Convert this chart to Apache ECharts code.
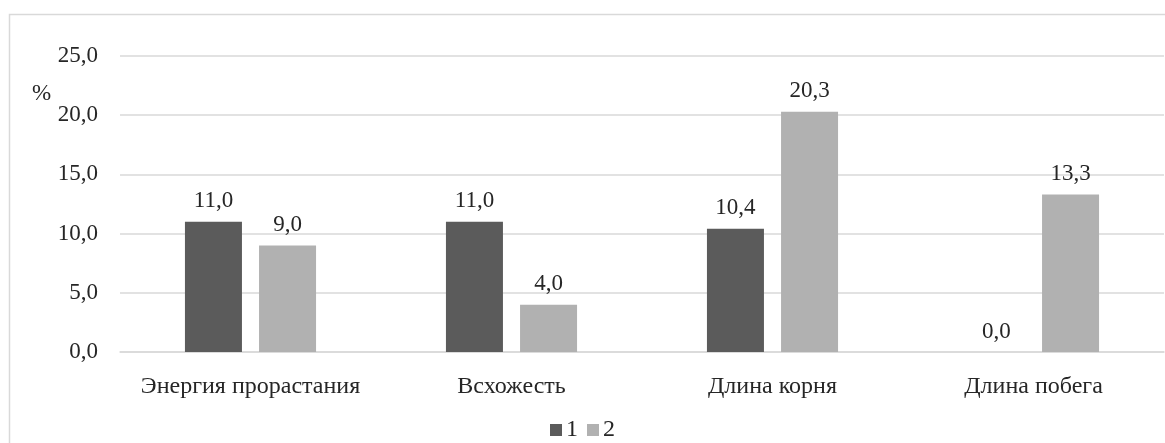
<!DOCTYPE html>
<html>
<head>
<meta charset="utf-8">
<script src="https://cdn.jsdelivr.net/npm/echarts@6/dist/echarts.min.js"></script>
<style>
  html, body { margin: 0; padding: 0; background: #fff; }
  #chart { width: 1165px; height: 443px; }
</style>
</head>
<body>
<div id="chart"></div>
<script>
// Categories and measured values (%)
const categories = ['Энергия прорастания', 'Всхожесть', 'Длина корня', 'Длина побега'];
const series1 = [11.0, 11.0, 10.4, 0.0];
const series2 = [9.0, 4.0, 20.3, 13.3];
const seriesNames = ['1', '2'];

const fmt = v => Number(v).toFixed(1).replace('.', ',');
const FONT = '"Liberation Serif", "Times New Roman", serif';
const TEXT = '#262626';

const chart = echarts.init(document.getElementById('chart'), null, { renderer: 'canvas' });

const valueLabel = {
  show: true,
  position: 'top',
  distance: 9,
  formatter: p => fmt(p.value),
  fontFamily: FONT,
  fontSize: 23,
  color: TEXT
};

chart.setOption({
  backgroundColor: '#ffffff',
  animation: false,
  textStyle: { fontFamily: FONT },
  graphic: [
    {
      type: 'rect',
      shape: { x: 9.5, y: 14.5, width: 1200, height: 500 },
      style: { fill: 'none', stroke: '#d9d9d9', lineWidth: 1.5 },
      silent: true
    },
    {
      type: 'text',
      left: 32,
      top: 82,
      style: { text: '%', font: '23px ' + FONT, fill: TEXT }
    }
  ],
  grid: { left: 120, right: 1, top: 56, bottom: 91 },
  legend: {
    top: 418,
    left: 'center',
    padding: 0,
    itemWidth: 12,
    itemHeight: 12,
    itemGap: 9,
    icon: 'rect',
    textStyle: { fontFamily: FONT, fontSize: 24, color: TEXT, padding: [0, 0, 0, -1] },
    data: seriesNames
  },
  xAxis: {
    type: 'category',
    data: categories,
    axisTick: { show: false },
    axisLine: { show: true, lineStyle: { color: '#d9d9d9', width: 1.5 } },
    axisLabel: { interval: 0, fontFamily: FONT, fontSize: 24, color: TEXT, margin: 23 }
  },
  yAxis: {
    type: 'value',
    min: 0,
    max: 25,
    interval: 5,
    axisLine: { show: false },
    axisTick: { show: false },
    splitLine: { lineStyle: { color: '#d9d9d9', width: 1.5 } },
    axisLabel: { fontFamily: FONT, fontSize: 23, color: TEXT, margin: 22, formatter: fmt }
  },
  series: [
    {
      name: seriesNames[0],
      type: 'bar',
      data: series1,
      barWidth: 57,
      barGap: '30%',
      itemStyle: { color: '#5b5b5b' },
      label: valueLabel
    },
    {
      name: seriesNames[1],
      type: 'bar',
      data: series2,
      barWidth: 57,
      barGap: '30%',
      itemStyle: { color: '#b1b1b1' },
      label: valueLabel
    }
  ]
});
</script>
</body>
</html>
